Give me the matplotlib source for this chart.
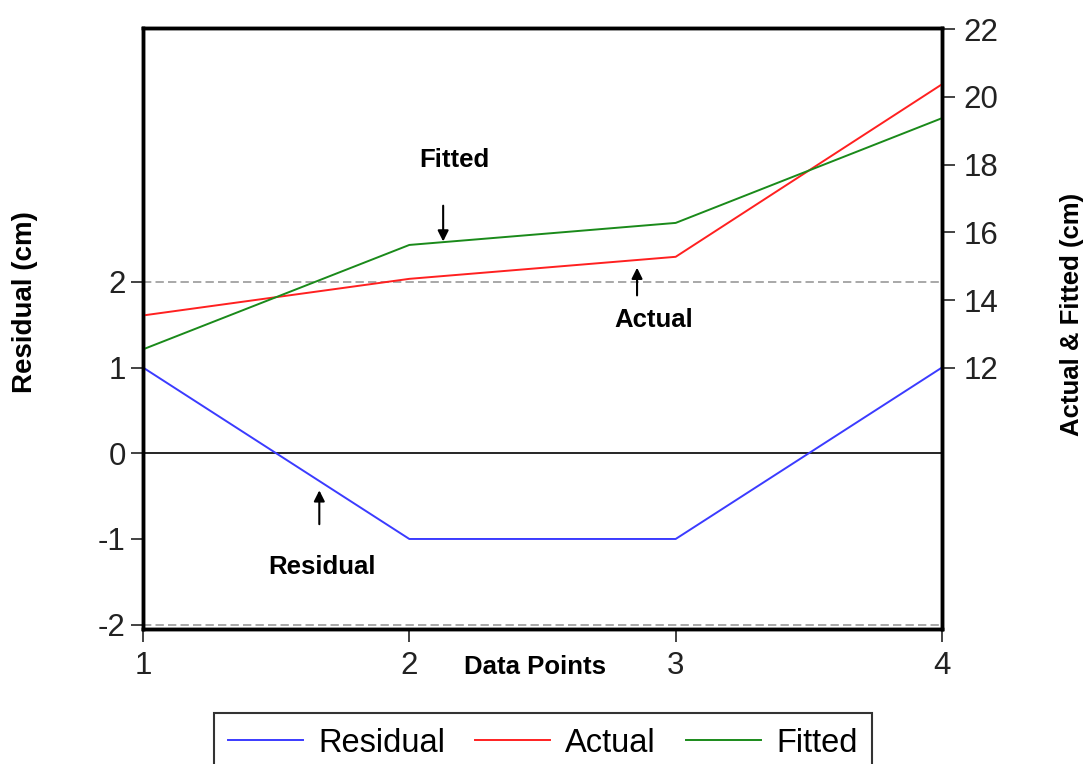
import matplotlib
matplotlib.use("Agg")
import matplotlib.pyplot as plt

plt.rcParams['font.family'] = ['Liberation Sans', 'DejaVu Sans']

points = [1, 2, 3, 4]
residual = [1.0, -1.0, -1.0, 1.0]
actual = [13.55, 14.63, 15.28, 20.37]
fitted = [12.55, 15.63, 16.28, 19.37]
left_ticks = [-2, -1, 0, 1, 2]
right_ticks = [12, 14, 16, 18, 20, 22]

W, H = 1087, 764
fig = plt.figure(figsize=(W / 100, H / 100), dpi=100)
ax = fig.add_axes([143 / W, 1 - 629 / H, (942 - 143) / W, (629 - 28) / H])
ax2 = ax.twinx()

ax.set_xlim(1, 4)
ax.set_ylim(-2.05, 4.96)
ax2.set_ylim(4.3, 22.03)

ax.axhline(0, color='black', lw=1.2, zorder=1)
ax.axhline(2, color='#999999', lw=1.2, ls=(0, (5, 2.5)), zorder=1)
ax.axhline(-2, color='#999999', lw=1.2, ls=(0, (5, 2.5)), zorder=1)

l1, = ax.plot(points, residual, color='#3b3bff', lw=1.4, label='Residual')
l2, = ax2.plot(points, actual, color='#ff2020', lw=1.4, label='Actual')
l3, = ax2.plot(points, fitted, color='#1a8a1a', lw=1.4, label='Fitted')

ax.set_xticks(points)
ax.set_xticklabels([str(p) for p in points])
ax.set_yticks(left_ticks)
ax.set_yticklabels([str(t) for t in left_ticks])
ax2.set_yticks(right_ticks)

for a in (ax, ax2):
    for s in a.spines.values():
        s.set_linewidth(2.5)
    a.tick_params(direction='out', length=9, width=1.2, labelsize=22.5, colors='#222222')
ax.tick_params(axis='y', pad=3.5)
ax.tick_params(axis='x', pad=6.5)
ax2.tick_params(axis='y', pad=6.5)

# Annotations
arrow = dict(arrowstyle='-|>', color='black', lw=1.5, mutation_scale=16)
ax2.annotate('', xy=(2.127, 15.65), xytext=(2.127, 16.87), arrowprops=arrow)
ax2.text(2.17, 18.14, 'Fitted', ha='center', va='center', fontsize=18.5, fontweight='bold')
ax2.annotate('', xy=(2.855, 15.04), xytext=(2.855, 14.06), arrowprops=arrow)
ax2.text(2.919, 13.42, 'Actual', ha='center', va='center', fontsize=18.5, fontweight='bold')
ax.annotate('', xy=(1.662, -0.40), xytext=(1.662, -0.86), arrowprops=arrow)
ax.text(1.673, -1.33, 'Residual', ha='center', va='center', fontsize=18.5, fontweight='bold')

fig.text(535 / W, 1 - 667 / H, 'Data Points', ha='center', va='center', fontsize=18.5, fontweight='bold')
fig.text(25 / W, 1 - 302 / H, 'Residual (cm)', ha='center', va='center', rotation=90,
         fontsize=20, fontweight='bold')
fig.text(1072 / W, 1 - 314 / H, 'Actual & Fitted (cm)', ha='center', va='center', rotation=90,
         fontsize=18.5, fontweight='bold')

leg = fig.legend(handles=[l1, l2, l3], loc='upper center', bbox_to_anchor=(543 / W, 1 - 713 / H),
                 ncol=3, fontsize=23.5, frameon=True, fancybox=False, edgecolor='black',
                 handlelength=2.3, columnspacing=0.92, borderpad=0.45, handletextpad=0.46,
                 borderaxespad=0)
leg.get_frame().set_linewidth(1.5)

fig.savefig('out.png', dpi=100)
